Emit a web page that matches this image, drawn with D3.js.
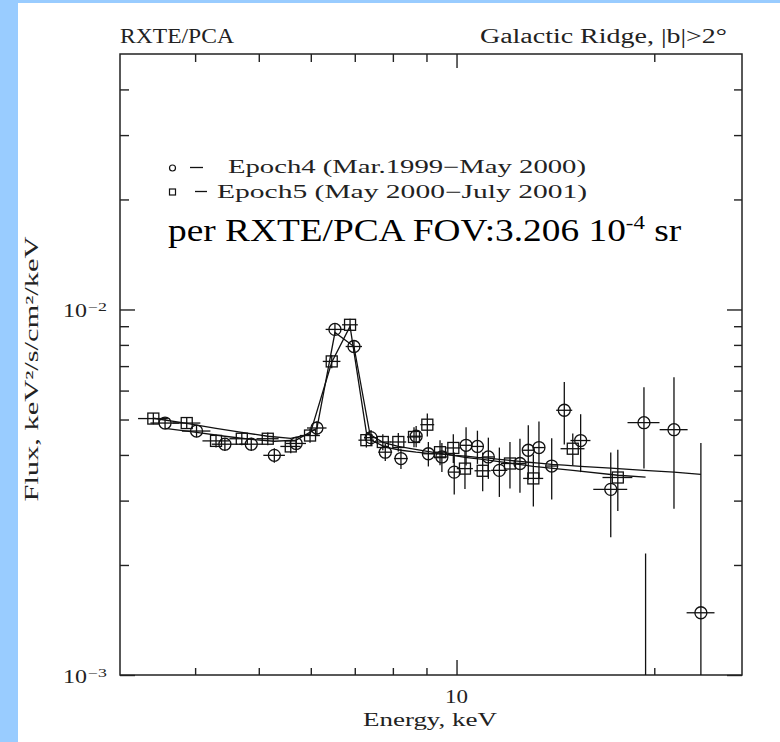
<!DOCTYPE html>
<html><head><meta charset="utf-8">
<script src="https://cdn.jsdelivr.net/npm/d3@7"></script>
<style>
html,body{margin:0;padding:0;background:#99ccff;}
svg{display:block;}
</style></head><body>
<svg id="c" width="780" height="742"></svg>
<script>
// ---------- data ----------
const epoch4Energy = [3.60,4.02,4.44,4.87,5.28,5.70,6.13,6.53,6.98,7.41,7.79,8.23,8.68,9.06,9.50,9.92,10.34,10.76,11.18,11.62,12.49,12.86,13.35,13.96,14.59,15.45,17.17,19.29,21.43,23.55];
const epoch4Flux = [0.00489,0.00465,0.00428,0.00428,0.00399,0.00430,0.00474,0.00882,0.00792,0.00446,0.00407,0.00391,0.00450,0.00403,0.00395,0.00359,0.00425,0.00422,0.00395,0.00363,0.00379,0.00412,0.00419,0.00373,0.00530,0.00438,0.00322,0.00490,0.00469,0.00148];
const epoch4FluxErr = [0.00018,0.00018,0.00018,0.00018,0.00018,0.00018,0.00020,0.00030,0.00030,0.00022,0.00022,0.00025,0.00030,0.00031,0.00036,0.00047,0.00051,0.00044,0.00051,0.00056,0.00064,0.00070,0.00075,0.00071,0.00103,0.00079,0.00084,0.00123,0.00184,0.00283];
const epoch4HalfWidth = [0.18,0.20,0.20,0.20,0.20,0.20,0.21,0.21,0.20,0.18,0.19,0.20,0.18,0.19,0.20,0.21,0.22,0.23,0.23,0.33,0.26,0.27,0.28,0.29,0.41,0.54,1.02,1.08,1.05,1.15];
const epoch4Model = [0.00473,0.00461,0.00450,0.00441,0.00436,0.00439,0.00473,0.00865,0.00792,0.00439,0.00420,0.00412,0.00407,0.00404,0.00402,0.00399,0.00397,0.00394,0.00392,0.00389,0.00384,0.00382,0.00380,0.00377,0.00375,0.00372,0.00368,0.00363,0.00359,0.00354];

const epoch5Energy = [3.455,3.884,4.304,4.711,5.160,5.593,5.984,6.457,6.885,7.290,7.723,8.154,8.615,9.027,9.438,9.888,10.30,10.96,12.06,13.09,15.03,17.60,19.40];
const epoch5Flux = [0.00503,0.00489,0.00437,0.00443,0.00443,0.00422,0.00452,0.00721,0.00908,0.00439,0.00434,0.00434,0.00448,0.00484,0.00407,0.00418,0.00367,0.00362,0.00379,0.00345,0.00416,0.00347,0.00060];
const epoch5FluxErr = [0.00018,0.00018,0.00018,0.00018,0.00018,0.00018,0.00020,0.00030,0.00035,0.00020,0.00022,0.00025,0.00028,0.00035,0.00032,0.00038,0.00044,0.00044,0.00055,0.00056,0.00042,0.00066,0.00155];
const epoch5HalfWidth = [0.18,0.19,0.20,0.20,0.20,0.20,0.21,0.20,0.19,0.20,0.22,0.23,0.21,0.22,0.23,0.24,0.29,0.31,0.38,0.46,0.63,0.92,1.02];
const epoch5Model = [0.00504,0.00488,0.00473,0.00461,0.00450,0.00444,0.00456,0.00717,0.00899,0.00461,0.00433,0.00422,0.00415,0.00409,0.00404,0.00399,0.00394,0.00389,0.00380,0.00372,0.00363,0.00352,0.00348];

const xDomain = [3.074, 27.2];
const yDomain = [0.001, 0.05];
const xMajorTicks = [10];
const xMinorTicks = [4,5,6,7,8,9,20];
const yMajorTicks = [0.001, 0.01];
const yMinorTicks = [0.002,0.003,0.004,0.005,0.006,0.007,0.008,0.009,0.02,0.03,0.04];
const xTickLabels = ["10"];
const yTickLabels = [{base:"10", exp:"\u22123"}, {base:"10", exp:"\u22122"}];
const legendLabels = ["Epoch4 (Mar.1999\u2212May 2000)", "Epoch5 (May 2000\u2212July 2001)"];

// ---------- layout ----------
const L = 120, R = 742, T = 54, B = 675;
const svg = d3.select("#c");
svg.append("rect").attr("x",18).attr("y",3).attr("width",762).attr("height",739).attr("fill","#fff");

const x = d3.scaleLog().domain(xDomain).range([L, R]);
const y = d3.scaleLog().domain(yDomain).range([B, T]);

const ink = "#111";
const tink = "#222";
const hfont = "Liberation Serif";

svg.append("clipPath").attr("id","clip").append("rect")
  .attr("x",L).attr("y",T).attr("width",R-L).attr("height",B-T);

// ticks
function ticks(axisFn, vals, size, transform){
  svg.append("g").attr("transform",transform)
    .call(axisFn.tickValues(vals).tickSize(size).tickFormat(""))
    .call(g=>{g.select(".domain").remove(); g.selectAll("line").attr("stroke","#222").attr("stroke-width",1.4);});
}
ticks(d3.axisBottom(x), xMinorTicks, -7, `translate(0,${B})`);
ticks(d3.axisBottom(x), xMajorTicks, -15, `translate(0,${B})`);
ticks(d3.axisTop(x), xMinorTicks, -8, `translate(0,${T})`);
ticks(d3.axisTop(x), xMajorTicks, -14, `translate(0,${T})`);
ticks(d3.axisLeft(y), yMinorTicks, -9, `translate(${L},0)`);
ticks(d3.axisLeft(y), yMajorTicks, -15, `translate(${L},0)`);
ticks(d3.axisRight(y), yMinorTicks, -8, `translate(${R},0)`);
ticks(d3.axisRight(y), yMajorTicks, -15, `translate(${R},0)`);

// frame
svg.append("rect").attr("x",L).attr("y",T).attr("width",R-L).attr("height",B-T)
  .attr("fill","none").attr("stroke","#222").attr("stroke-width",1.5);

// tick labels
xMajorTicks.forEach((v,i)=>{
  svg.append("text").attr("x",x(v)).attr("y",B+28).attr("text-anchor","middle")
    .attr("font-family",hfont).attr("font-size",18).attr("fill",tink)
    .attr("textLength",23).attr("lengthAdjust","spacingAndGlyphs").text(xTickLabels[i]);
});
yMajorTicks.forEach((v,i)=>{
  const yy = y(v);
  svg.append("text").attr("x",63).attr("y",yy+8).attr("font-family",hfont).attr("font-size",18).attr("fill",tink)
    .attr("textLength",24).attr("lengthAdjust","spacingAndGlyphs").text(yTickLabels[i].base);
  svg.append("text").attr("x",88).attr("y",yy+2).attr("font-family",hfont).attr("font-size",12).attr("fill",tink)
    .attr("textLength",19).attr("lengthAdjust","spacingAndGlyphs").text(yTickLabels[i].exp);
});

// axis titles
svg.append("text").attr("x",430).attr("y",726).attr("text-anchor","middle")
  .attr("font-family",hfont).attr("font-size",19).attr("fill",tink)
  .attr("textLength",134).attr("lengthAdjust","spacingAndGlyphs").text("Energy, keV");
svg.append("text").attr("transform","translate(38,369) rotate(-90)").attr("text-anchor","middle")
  .attr("font-family",hfont).attr("font-size",18).attr("fill",tink)
  .attr("textLength",265).attr("lengthAdjust","spacingAndGlyphs").text("Flux, keV\u00b2/s/cm\u00b2/keV");

// top labels
svg.append("text").attr("x",120).attr("y",43).attr("font-family",hfont).attr("font-size",20.5).attr("fill",tink)
  .attr("textLength",114).attr("lengthAdjust","spacingAndGlyphs").text("RXTE/PCA");
svg.append("text").attr("x",480).attr("y",43).attr("font-family",hfont).attr("font-size",20.5).attr("fill",tink)
  .attr("textLength",247).attr("lengthAdjust","spacingAndGlyphs").text("Galactic Ridge, |b|>2\u00b0");

// ---------- plot marks ----------
const plot = svg.append("g").attr("clip-path","url(#clip)");
const epochs = [
  {E:epoch4Energy, F:epoch4Flux, err:epoch4FluxErr, hw:epoch4HalfWidth, M:epoch4Model, shape:"circle"},
  {E:epoch5Energy, F:epoch5Flux, err:epoch5FluxErr, hw:epoch5HalfWidth, M:epoch5Model, shape:"square"}
];
const line = d3.line().x(d=>x(d[0])).y(d=>y(d[1]));
epochs.forEach(ep=>{
  const pts = ep.E.map((e,i)=>({e, f:ep.F[i], err:ep.err[i], hw:ep.hw[i], m:ep.M[i]}));
  plot.append("path").datum(pts.map(p=>[p.e,p.m])).attr("d",line)
    .attr("fill","none").attr("stroke",ink).attr("stroke-width",1.3);
  const g = plot.append("g").attr("stroke",ink).attr("stroke-width",1.3).attr("fill","none");
  pts.forEach(p=>{
    g.append("line").attr("x1",x(p.e-p.hw)).attr("x2",x(p.e+p.hw)).attr("y1",y(p.f)).attr("y2",y(p.f));
    g.append("line").attr("x1",x(p.e)).attr("x2",x(p.e))
      .attr("y1",y(p.f+p.err)).attr("y2",y(Math.max(p.f-p.err,0.0002)));
    if(ep.shape==="circle"){
      g.append("circle").attr("cx",x(p.e)).attr("cy",y(p.f)).attr("r",6);
    } else {
      g.append("rect").attr("x",x(p.e)-5.5).attr("y",y(p.f)-5.5).attr("width",11).attr("height",11);
    }
  });
});

// ---------- legend ----------
const lg = svg.append("g");
lg.append("circle").attr("cx",172.5).attr("cy",168).attr("r",3).attr("fill","none").attr("stroke",ink).attr("stroke-width",1.2);
lg.append("rect").attr("x",169.5).attr("y",189).attr("width",6).attr("height",6).attr("fill","none").attr("stroke",ink).attr("stroke-width",1.2);
lg.append("line").attr("x1",190).attr("x2",203).attr("y1",167.5).attr("y2",167.5).attr("stroke",ink).attr("stroke-width",1.3);
lg.append("line").attr("x1",195).attr("x2",207).attr("y1",191.5).attr("y2",191.5).attr("stroke",ink).attr("stroke-width",1.3);
lg.append("text").attr("x",228).attr("y",173).attr("font-family",hfont).attr("font-size",18).attr("fill",tink)
  .attr("textLength",358).attr("lengthAdjust","spacingAndGlyphs").text(legendLabels[0]);
lg.append("text").attr("x",217).attr("y",197.5).attr("font-family",hfont).attr("font-size",18).attr("fill",tink)
  .attr("textLength",370).attr("lengthAdjust","spacingAndGlyphs").text(legendLabels[1]);

// big annotation
const big = svg.append("text").attr("transform","translate(168,241) scale(1.205,1)")
  .attr("font-family","Liberation Serif").attr("font-size",31).attr("fill","#000");
big.append("tspan").text("per RXTE/PCA FOV:3.206 10");
big.append("tspan").attr("font-size",19).attr("dy",-12).text("-4");
big.append("tspan").attr("dy",12).text(" sr");
</script>
</body></html>
